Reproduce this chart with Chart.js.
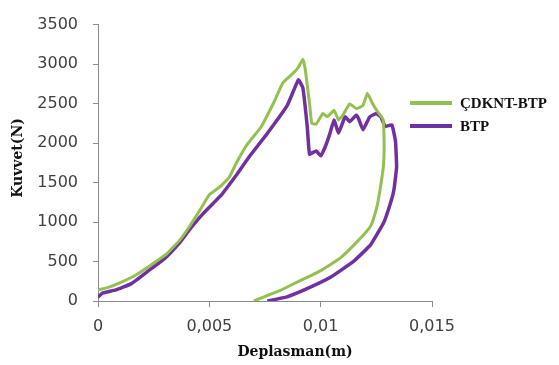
<!DOCTYPE html>
<html>
<head>
<meta charset="utf-8">
<script src="https://cdn.jsdelivr.net/npm/chart.js@4/dist/chart.umd.min.js"></script>
<style>
  html, body { margin: 0; padding: 0; background: #fff; }
  #wrap { width: 559px; height: 365px; }
</style>
</head>
<body>
<div id="wrap"><canvas id="forceChart" width="559" height="365"></canvas></div>
<script>
// ÇDKNT-BTP load/unload curve: displacement (m) and force (N)
const cdkntX = [0, 0.0005, 0.0011, 0.0017, 0.0024, 0.0031, 0.0037, 0.0041, 0.0046, 0.0050,
  0.0055, 0.0059, 0.0062, 0.0067, 0.0073, 0.0079, 0.0083, 0.0088, 0.0090, 0.0092,
  0.0093, 0.0095, 0.0096, 0.0098, 0.0101, 0.0103, 0.0106, 0.0108, 0.0110, 0.0113,
  0.0116, 0.0119, 0.0121, 0.0123, 0.0125, 0.0128, 0.01285, 0.01283, 0.01277, 0.01265,
  0.01254, 0.01235, 0.0122, 0.01164, 0.01089, 0.00999, 0.00894, 0.00819, 0.0070];
const cdkntY = [140, 175, 245, 330, 460, 600, 780, 940, 1160, 1345,
  1450, 1570, 1740, 1983, 2193, 2517, 2763, 2895, 2960, 3060,
  2950, 2500, 2250, 2240, 2374, 2332, 2415, 2292, 2353, 2497,
  2436, 2476, 2630, 2517, 2420, 2300, 2000, 1750, 1600, 1380,
  1210, 1020, 930, 752, 546, 382, 238, 135, 0];

// BTP load/unload curve
const btpX = [0, 0.0002, 0.0008, 0.0015, 0.0023, 0.0030, 0.0037, 0.0041, 0.0047, 0.0055,
  0.0062, 0.0068, 0.0076, 0.0085, 0.0090, 0.0092, 0.0094, 0.0095, 0.0098, 0.0100,
  0.0102, 0.0104, 0.0106, 0.0108, 0.0111, 0.0113, 0.0116, 0.0117, 0.0119, 0.0122,
  0.0125, 0.0127, 0.0129, 0.0132, 0.01336, 0.01341, 0.01329, 0.01314, 0.01284, 0.01224,
  0.01149, 0.01044, 0.00939, 0.00849, 0.0076];
const btpY = [50, 100, 140, 220, 390, 540, 750, 900, 1100, 1330,
  1590, 1830, 2120, 2476, 2800, 2700, 2200, 1860, 1901, 1839,
  1950, 2107, 2292, 2128, 2332, 2271, 2353, 2312, 2168, 2330,
  2374, 2332, 2210, 2230, 2024, 1696, 1408, 1244, 998, 711,
  505, 300, 156, 53, 0];

const seriesNames = ['ÇDKNT-BTP', 'BTP'];
const seriesColors = ['#93c050', '#7030a0'];
const xTickLabels = ['0', '0,005', '0,01', '0,015'];
const yTicks = [0, 500, 1000, 1500, 2000, 2500, 3000, 3500];
const xTitle = 'Deplasman(m)';
const yTitle = 'Kuvvet(N)';

function toPoints(xs, ys) {
  return xs.map((x, i) => ({ x, y: ys[i] }));
}

// legend + axis titles drawn by hand so they can sit where we want them
const decorations = {
  id: 'decorations',
  afterDraw(chart) {
    const ctx = chart.ctx;
    ctx.save();
    // legend
    const rows = [103, 126];
    chart.data.datasets.forEach((ds, i) => {
      ctx.strokeStyle = ds.borderColor;
      ctx.lineWidth = 4;
      ctx.beginPath();
      ctx.moveTo(410, rows[i]);
      ctx.lineTo(452, rows[i]);
      ctx.stroke();
      ctx.fillStyle = '#111';
      ctx.font = 'bold 15px "Liberation Serif", serif';
      ctx.textBaseline = 'middle';
      ctx.textAlign = 'left';
      ctx.fillText(ds.label, 460, rows[i] + 1);
    });
    // axis titles
    ctx.font = 'bold 14px "DejaVu Serif", serif';
    ctx.fillStyle = '#111';
    ctx.textAlign = 'center';
    ctx.textBaseline = 'middle';
    ctx.fillText(xTitle, 295, 352);
    ctx.translate(18, 158);
    ctx.rotate(-Math.PI / 2);
    ctx.fillText(yTitle, 0, 0);
    ctx.restore();
  }
};

new Chart(document.getElementById('forceChart'), {
  type: 'scatter',
  data: {
    datasets: [
      {
        label: seriesNames[0],
        data: toPoints(cdkntX, cdkntY),
        showLine: true,
        borderColor: seriesColors[0],
        backgroundColor: seriesColors[0],
        borderWidth: 3,
        pointRadius: 0,
        tension: 0.1
      },
      {
        label: seriesNames[1],
        data: toPoints(btpX, btpY),
        showLine: true,
        borderColor: seriesColors[1],
        backgroundColor: seriesColors[1],
        borderWidth: 3.5,
        pointRadius: 0,
        tension: 0.1
      }
    ]
  },
  options: {
    responsive: false,
    animation: false,
    layout: { padding: { left: 38, right: 127, top: 17, bottom: 0 } },
    plugins: {
      legend: { display: false },
      tooltip: { enabled: false }
    },
    scales: {
      x: {
        type: 'linear',
        min: 0,
        max: 0.015,
        afterFit: s => { s.height = 64; },
        afterBuildTicks: s => { s.ticks = [0, 0.005, 0.01, 0.015].map(v => ({ value: v })); },
        grid: { drawOnChartArea: false, drawTicks: true, tickLength: 6, color: '#8a8a8a' },
        border: { color: '#8a8a8a', width: 1 },
        ticks: {
          padding: 10,
          color: '#404040',
          font: { family: '"DejaVu Sans", Verdana, sans-serif', size: 16 },
          callback: (v, i) => xTickLabels[i]
        }
      },
      y: {
        min: 0,
        max: 3500,
        afterFit: s => { s.width = 60; },
        afterBuildTicks: s => { s.ticks = yTicks.map(v => ({ value: v })); },
        grid: { drawOnChartArea: false, drawTicks: true, tickLength: 5, color: '#8a8a8a' },
        border: { color: '#8a8a8a', width: 1 },
        ticks: {
          padding: 15,
          color: '#404040',
          font: { family: '"DejaVu Sans", Verdana, sans-serif', size: 16 },
          callback: v => String(v)
        }
      }
    }
  },
  plugins: [decorations]
});
</script>
</body>
</html>
